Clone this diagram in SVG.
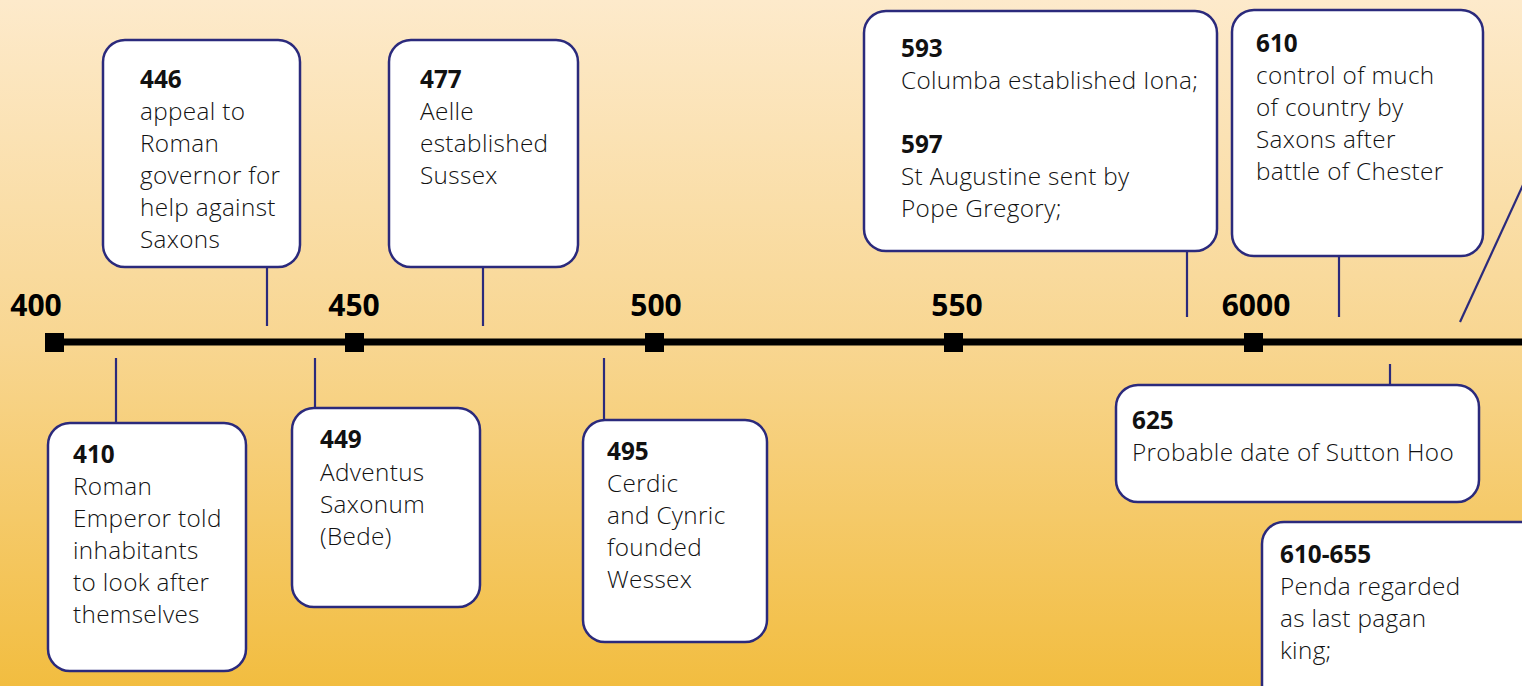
<svg xmlns="http://www.w3.org/2000/svg" width="1522" height="686" viewBox="0 0 1522 686">
<defs>
<linearGradient id="bg" x1="0" y1="0" x2="0" y2="1">
<stop offset="0" stop-color="#fdeacb"/>
<stop offset="0.5" stop-color="#f8d691"/>
<stop offset="1" stop-color="#f2bd40"/>
</linearGradient>
<style>
.box{fill:#fff;stroke:#2b2a7c;stroke-width:2.5}
.con{stroke:#2b2a7c;stroke-width:2.2;fill:none}
.t{font-family:"Open Sans","Noto Sans",sans-serif;font-size:24.3px;font-weight:300;letter-spacing:0.35px;fill:#111}
.b{font-weight:bold;letter-spacing:0}
.yr{font-family:"Open Sans","Noto Sans",sans-serif;font-size:30px;font-weight:bold;fill:#000}
.tick{fill:#000}
</style>
</defs>
<rect width="1522" height="686" fill="url(#bg)"/>

<g id="axis">
<line x1="54" y1="342" x2="1522" y2="342" stroke="#000" stroke-width="7"/>
<rect class="tick" x="45" y="333" width="19" height="19"/>
<rect class="tick" x="345" y="333" width="19" height="19"/>
<rect class="tick" x="645" y="333" width="19" height="19"/>
<rect class="tick" x="944" y="333" width="19" height="19"/>
<rect class="tick" x="1244" y="333" width="19" height="19"/>
<text class="yr" x="36" y="316" text-anchor="middle">400</text>
<text class="yr" x="354" y="316" text-anchor="middle">450</text>
<text class="yr" x="656" y="316" text-anchor="middle">500</text>
<text class="yr" x="957" y="316" text-anchor="middle">550</text>
<text class="yr" x="1256" y="316" text-anchor="middle">6000</text>
</g>

<g id="connectors">
<line class="con" x1="267" y1="267" x2="267" y2="326"/>
<line class="con" x1="483" y1="267" x2="483" y2="326"/>
<line class="con" x1="1187" y1="251" x2="1187" y2="317"/>
<line class="con" x1="1339" y1="256" x2="1339" y2="317"/>
<line class="con" x1="1460" y1="322" x2="1529" y2="172"/>
<line class="con" x1="116" y1="358" x2="116" y2="423"/>
<line class="con" x1="315" y1="358" x2="315" y2="408"/>
<line class="con" x1="604" y1="358" x2="604" y2="420"/>
<line class="con" x1="1390" y1="364" x2="1390" y2="385"/>
</g>

<g id="n446">
<rect class="box" x="103" y="40" width="197" height="227" rx="22"/>
<text class="t" x="140"><tspan class="b" x="140" y="88">446</tspan><tspan x="140" y="120">appeal to</tspan><tspan x="140" y="152">Roman</tspan><tspan x="140" y="184">governor for</tspan><tspan x="140" y="216">help against</tspan><tspan x="140" y="248">Saxons</tspan></text>
</g>

<g id="n477">
<rect class="box" x="389" y="40" width="189" height="227" rx="22"/>
<text class="t" x="420"><tspan class="b" x="420" y="88">477</tspan><tspan x="420" y="120">Aelle</tspan><tspan x="420" y="152">established</tspan><tspan x="420" y="184">Sussex</tspan></text>
</g>

<g id="n593">
<rect class="box" x="864" y="11" width="353" height="240" rx="22"/>
<text class="t" x="901"><tspan class="b" x="901" y="57">593</tspan><tspan x="901" y="89">Columba established Iona;</tspan><tspan class="b" x="901" y="153">597</tspan><tspan x="901" y="185">St Augustine sent by</tspan><tspan x="901" y="217">Pope Gregory;</tspan></text>
</g>

<g id="n610">
<rect class="box" x="1232" y="10" width="251" height="246" rx="22"/>
<text class="t" x="1256"><tspan class="b" x="1256" y="52">610</tspan><tspan x="1256" y="84">control of much</tspan><tspan x="1256" y="116">of country by</tspan><tspan x="1256" y="148">Saxons after</tspan><tspan x="1256" y="180">battle of Chester</tspan></text>
</g>

<g id="n410">
<rect class="box" x="48" y="423" width="198" height="248" rx="22"/>
<text class="t" x="73"><tspan class="b" x="73" y="463">410</tspan><tspan x="73" y="495">Roman</tspan><tspan x="73" y="527">Emperor told</tspan><tspan x="73" y="559">inhabitants</tspan><tspan x="73" y="591">to look after</tspan><tspan x="73" y="623">themselves</tspan></text>
</g>

<g id="n449">
<rect class="box" x="292" y="408" width="188" height="199" rx="22"/>
<text class="t" x="320"><tspan class="b" x="320" y="448">449</tspan><tspan x="320" y="481">Adventus</tspan><tspan x="320" y="513">Saxonum</tspan><tspan x="320" y="545">(Bede)</tspan></text>
</g>

<g id="n495">
<rect class="box" x="583" y="420" width="184" height="222" rx="22"/>
<text class="t" x="607"><tspan class="b" x="607" y="460">495</tspan><tspan x="607" y="492">Cerdic</tspan><tspan x="607" y="524">and Cynric</tspan><tspan x="607" y="556">founded</tspan><tspan x="607" y="588">Wessex</tspan></text>
</g>

<g id="n625">
<rect class="box" x="1116" y="385" width="363" height="117" rx="22"/>
<text class="t" x="1132"><tspan class="b" x="1132" y="429">625</tspan><tspan x="1132" y="461">Probable date of Sutton Hoo</tspan></text>
</g>

<g id="n610-655">
<rect class="box" x="1262" y="522" width="300" height="200" rx="22"/>
<text class="t" x="1280"><tspan class="b" x="1280" y="563">610-655</tspan><tspan x="1280" y="595">Penda regarded</tspan><tspan x="1280" y="627">as last pagan</tspan><tspan x="1280" y="659">king;</tspan></text>
</g>
</svg>
